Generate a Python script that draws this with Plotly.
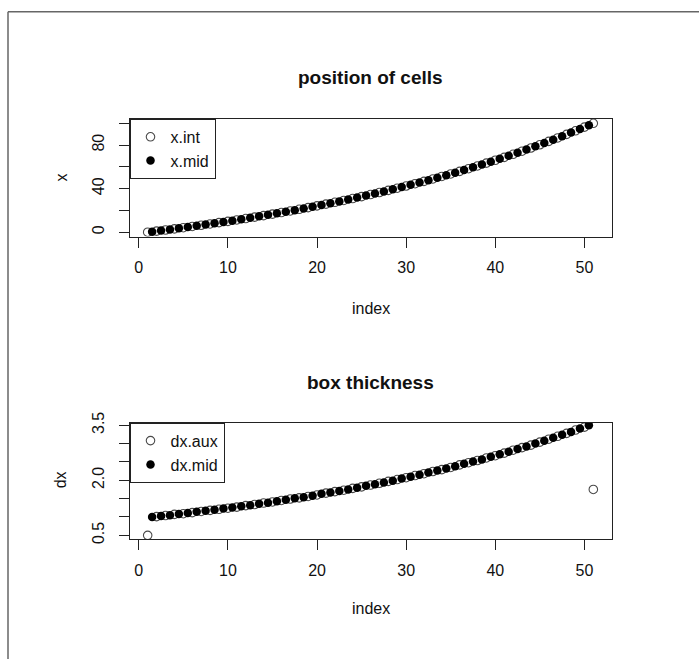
import plotly.graph_objects as go

# Grid of 50 cells on [0, 100]: interface and mid-cell positions
x_int = [0.00, 1.00, 2.03, 3.08, 4.16, 5.27, 6.40, 7.57, 8.76, 9.99,
         11.25, 12.54, 13.86, 15.22, 16.62, 18.05, 19.51, 21.02, 22.57, 24.15,
         25.77, 27.44, 29.15, 30.91, 32.71, 34.56, 36.45, 38.39, 40.39, 42.43,
         44.53, 46.68, 48.89, 51.16, 53.48, 55.87, 58.31, 60.82, 63.39, 66.04,
         68.74, 71.52, 74.37, 77.30, 80.30, 83.38, 86.54, 89.78, 93.10, 96.51,
         100.00]
x_mid = [0.50, 1.51, 2.55, 3.62, 4.71, 5.84, 6.98, 8.16, 9.37, 10.62,
         11.89, 13.20, 14.54, 15.92, 17.33, 18.78, 20.27, 21.79, 23.36, 24.96,
         26.61, 28.30, 30.03, 31.81, 33.63, 35.50, 37.42, 39.39, 41.41, 43.48,
         45.61, 47.79, 50.02, 52.32, 54.67, 57.09, 59.57, 62.11, 64.71, 67.39,
         70.13, 72.95, 75.84, 78.80, 81.84, 84.96, 88.16, 91.44, 94.81, 98.26]

# Box thickness: mid-cell widths and distances between mid-points
dx_mid = [1.00, 1.03, 1.05, 1.08, 1.11, 1.14, 1.17, 1.20, 1.23, 1.26,
          1.29, 1.32, 1.36, 1.39, 1.43, 1.47, 1.51, 1.54, 1.58, 1.63,
          1.67, 1.71, 1.75, 1.80, 1.85, 1.89, 1.94, 1.99, 2.05, 2.10,
          2.15, 2.21, 2.27, 2.32, 2.38, 2.45, 2.51, 2.57, 2.64, 2.71,
          2.78, 2.85, 2.92, 3.00, 3.08, 3.16, 3.24, 3.32, 3.41, 3.50]
dx_aux = [0.50, 1.01, 1.04, 1.07, 1.09, 1.12, 1.15, 1.18, 1.21, 1.24,
          1.27, 1.31, 1.34, 1.38, 1.41, 1.45, 1.49, 1.52, 1.56, 1.60,
          1.65, 1.69, 1.73, 1.78, 1.82, 1.87, 1.92, 1.97, 2.02, 2.07,
          2.13, 2.18, 2.24, 2.29, 2.35, 2.42, 2.48, 2.54, 2.61, 2.67,
          2.74, 2.82, 2.89, 2.96, 3.04, 3.12, 3.20, 3.28, 3.37, 3.45,
          1.75]

idx_int = list(range(1, len(x_int) + 1))
idx_mid = [i + 0.5 for i in range(1, len(x_mid) + 1)]

x_ticks = [0, 10, 20, 30, 40, 50]
x_tick_text = ["0", "10", "20", "30", "40", "50"]
y1_ticks = [0, 20, 40, 60, 80, 100]
y1_tick_text = ["0", "", "40", "", "80", ""]
y2_ticks = [0.5, 1.0, 1.5, 2.0, 2.5, 3.0, 3.5]
y2_tick_text = ["0.5", "", "", "2.0", "", "", "3.5"]

W, H = 699, 664
FONT = "Liberation Sans, Arial, Helvetica, sans-serif"
INK = "#222222"
TXT = "#111111"

def px_x(p):
    return p / W

def px_y(p):
    # pixel row measured from the top of the page -> paper fraction
    p = (p - 7.3) / 0.983
    return 1 - p / H

open_marker = dict(symbol="circle-open", size=8.5, color="#4a4a4a",
                   line=dict(width=1.1, color="#4a4a4a"))
fill_marker = dict(symbol="circle", size=8.5, color="#000000", line=dict(width=0))

fig = go.Figure()
fig.add_trace(go.Scatter(x=idx_int, y=x_int, mode="markers", name="x.int",
                         marker=open_marker, xaxis="x", yaxis="y", legend="legend"))
fig.add_trace(go.Scatter(x=idx_mid, y=x_mid, mode="markers", name="x.mid",
                         marker=fill_marker, xaxis="x", yaxis="y", legend="legend"))
fig.add_trace(go.Scatter(x=idx_int, y=dx_aux, mode="markers", name="dx.aux",
                         marker=open_marker, xaxis="x2", yaxis="y2", legend="legend2"))
fig.add_trace(go.Scatter(x=idx_mid, y=dx_mid, mode="markers", name="dx.mid",
                         marker=fill_marker, xaxis="x2", yaxis="y2", legend="legend2"))

xdom = [px_x(129.5), px_x(611.5)]
top_dom = [px_y(234.5), px_y(116)]
bot_dom = [px_y(539.5), px_y(422)]

axis_common = dict(showline=True, mirror=True, linecolor=INK, linewidth=1,
                   ticks="outside", ticklen=10, tickwidth=1, tickcolor=INK,
                   showgrid=False, zeroline=False,
                   tickfont=dict(family=FONT, size=16, color=TXT))

legend_common = dict(xanchor="left", yanchor="top", bgcolor="white",
                     bordercolor=INK, borderwidth=1,
                     font=dict(family=FONT, size=16, color=TXT),
                     itemwidth=30, tracegroupgap=0)

fig.update_layout(
    width=W, height=H,
    margin=dict(l=0, r=0, t=0, b=0),
    paper_bgcolor="white", plot_bgcolor="white",
    showlegend=True,
    xaxis=dict(domain=xdom, range=[-1.04, 53.04], tickvals=x_ticks, ticktext=x_tick_text,
               anchor="y", ticklabelstandoff=6, **axis_common),
    yaxis=dict(domain=top_dom, range=[-4, 104], tickvals=y1_ticks, ticktext=y1_tick_text,
               anchor="x", tickangle=-90, ticklabelstandoff=8, **axis_common),
    xaxis2=dict(domain=xdom, range=[-1.04, 53.04], tickvals=x_ticks, ticktext=x_tick_text,
                anchor="y2", ticklabelstandoff=6, **axis_common),
    yaxis2=dict(domain=bot_dom, range=[0.39, 3.57], tickvals=y2_ticks, ticktext=y2_tick_text,
                anchor="x2", tickangle=-90, ticklabelstandoff=8, **axis_common),
    legend=dict(x=xdom[0], y=top_dom[1], **legend_common),
    legend2=dict(x=xdom[0], y=bot_dom[1], **legend_common),
)

def label(text, x, y, size=16, bold=False, angle=0):
    fig.add_annotation(text=f"<b>{text}</b>" if bold else text,
                       x=px_x(x), y=px_y(y), xref="paper", yref="paper",
                       xanchor="center", yanchor="middle",
                       showarrow=False, textangle=angle,
                       font=dict(family=FONT, size=size, color=TXT))

label("position of cells", 370.5, 74, size=19, bold=True)
label("box thickness", 370.5, 381, size=19, bold=True)
label("index", 370.5, 307)
label("index", 370.5, 609)
label("x", 61, 175, angle=-90)
label("dx", 60, 480, angle=-90)

# Outer frame along the top and left edges of the page
fig.add_shape(type="line", xref="paper", yref="paper",
              x0=px_x(8), x1=1.0, y0=px_y(8), y1=px_y(8),
              line=dict(color="#666666", width=1.5))
fig.add_shape(type="line", xref="paper", yref="paper",
              x0=px_x(8), x1=px_x(8), y0=0.0, y1=px_y(8),
              line=dict(color="#666666", width=1.5))

fig.write_html("out.html")
